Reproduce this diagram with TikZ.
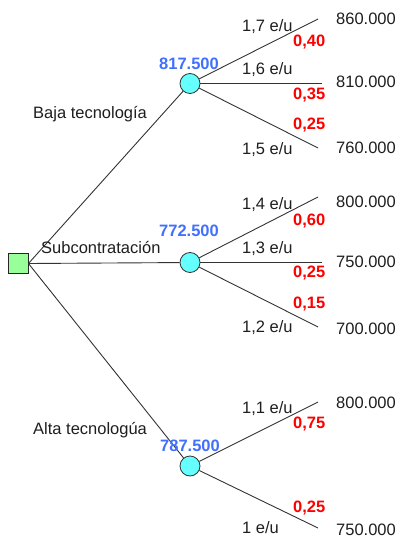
\documentclass[tikz,border=0pt]{standalone}
\usepackage{fontspec}
\setmainfont{Liberation Sans}
\definecolor{cfill}{RGB}{102,255,255}
\definecolor{dfill}{RGB}{153,255,153}
\definecolor{evblue}{RGB}{64,112,255}
\definecolor{txt}{RGB}{30,30,30}
\begin{document}
\begin{tikzpicture}[x=1bp,y=-1bp,
  every node/.style={font=\fontsize{16.5bp}{19bp}\selectfont},
  chance/.style={circle,draw=black!80,fill=cfill,minimum size=20bp,inner sep=0pt,line width=0.8bp},
  decision/.style={rectangle,draw=black!85,fill=dfill,minimum size=20bp,inner sep=0pt,line width=0.9bp},
  branch/.style={draw=black!80,line width=0.9bp},
  lbl/.style={anchor=base west,inner sep=0pt,text=txt},
  prob/.style={anchor=base west,inner sep=0pt,text=red,font=\fontsize{16.5bp}{19bp}\selectfont\bfseries},
  ev/.style={anchor=base west,inner sep=0pt,text=evblue,font=\fontsize{16.5bp}{19bp}\selectfont\bfseries},
  val/.style={anchor=base west,inner sep=0pt,text=txt}]
\useasboundingbox (0,0) rectangle (399,538);
% nodes
\node[decision] (d) at (18,263.5) {};
\node[chance] (c1) at (190,83.5) {};
\node[chance] (c2) at (190,262.5) {};
\node[chance] (c3) at (190,466) {};
% end coordinates
\coordinate (e11) at (318,19);
\coordinate (e12) at (322,83.5);
\coordinate (e13) at (318,148);
\coordinate (e21) at (318,197);
\coordinate (e22) at (322,262.5);
\coordinate (e23) at (318,327);
\coordinate (e31) at (318,402);
\coordinate (e32) at (318,528);
% main branches
\draw[branch] (d.east) -- (c1);
\draw[branch] (d.east) -- (c2);
\draw[branch] (d.east) -- (c3);
\draw[branch] (c1) -- (e11);
\draw[branch] (c1) -- (e12);
\draw[branch] (c1) -- (e13);
\draw[branch] (c2) -- (e21);
\draw[branch] (c2) -- (e22);
\draw[branch] (c2) -- (e23);
\draw[branch] (c3) -- (e31);
\draw[branch] (c3) -- (e32);
% decision labels
\node[lbl] (l1) at (33,119) {Baja tecnología};
\node[lbl] (l2) at (41,253) {Subcontratación};
\node[lbl] (l3) at (33,434) {Alta tecnologúa};
% expected values
\node[ev] (v1) at (159,70) {817.500};
\node[ev] (v2) at (159,236) {772.500};
\node[ev] (v3) at (160,451) {787.500};
% top branch labels
\node[lbl] (t1) at (242,32) {1,7 e/u};
\node[prob] (p1) at (293,47) {0,40};
\node[lbl] (t2) at (242,75) {1,6 e/u};
\node[prob] (p2) at (293,100) {0,35};
\node[prob] (p3) at (293,130) {0,25};
\node[lbl] (t3) at (242,155) {1,5 e/u};
\node[val] (r1) at (336,25) {860.000};
\node[val] (r2) at (336,88) {810.000};
\node[val] (r3) at (336,154) {760.000};
% middle
\node[lbl] (t4) at (242,210) {1,4 e/u};
\node[prob] (p4) at (293,225) {0,60};
\node[lbl] (t5) at (242,253) {1,3 e/u};
\node[prob] (p5) at (293,277) {0,25};
\node[prob] (p6) at (293,308) {0,15};
\node[lbl] (t6) at (242,332) {1,2 e/u};
\node[val] (r4) at (336,208) {800.000};
\node[val] (r5) at (336,267) {750.000};
\node[val] (r6) at (336,334) {700.000};
% bottom
\node[lbl] (t7) at (242,413) {1,1 e/u};
\node[prob] (p7) at (293,428) {0,75};
\node[prob] (p8) at (293,512) {0,25};
\node[lbl] (t8) at (242,533) {1 e/u};
\node[val] (r7) at (336,408) {800.000};
\node[val] (r8) at (336,535) {750.000};
\end{tikzpicture}
\end{document}
